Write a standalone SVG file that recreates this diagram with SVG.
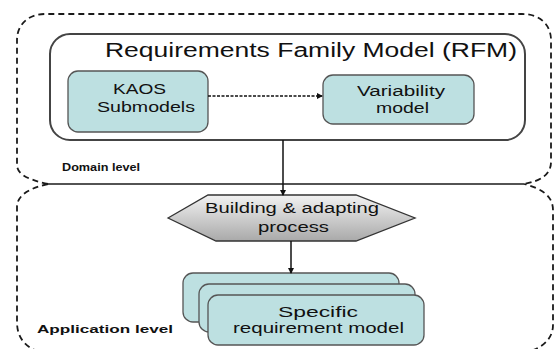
<svg xmlns="http://www.w3.org/2000/svg" width="554" height="349" viewBox="0 0 554 349">
<style>
text{font-family:"Liberation Sans",Arial,sans-serif;fill:#111}
.frame{fill:none;stroke:#1a1a1a;stroke-width:1.8;stroke-dasharray:6 4}
.box{fill:#bde0e1;stroke:#555;stroke-width:1.3}
.t14{font-size:14px}
.lvl{font-size:11px;font-weight:bold}
.conn{stroke:#111;stroke-width:1.5;fill:none}
</style>
<defs>
<marker id="ah" markerWidth="6" markerHeight="6" refX="5" refY="3" orient="auto" markerUnits="userSpaceOnUse">
<path d="M0,0 L6,3 L0,6 z" fill="#111"/>
</marker>
<linearGradient id="hexg" x1="0" y1="0" x2="0" y2="1">
<stop offset="0" stop-color="#f2f2f2"/>
<stop offset="1" stop-color="#a9a9a9"/>
</linearGradient>
</defs>
<g id="domain-frame">
<path class="frame" d="M48,184 C30,180 17,175 17,165 L17,40 C17,25 28,14 45,14 L522,14 C540,14 551,25 551,40 L551,162 C551,175 540,181 524,184"/>
<line x1="48" y1="184" x2="524" y2="184" stroke="#1a1a1a" stroke-width="1.5"/>
<text class="lvl" x="62" y="171" textLength="78" lengthAdjust="spacingAndGlyphs">Domain level</text>
</g>
<g id="application-frame">
<path class="frame" d="M48,184 C30,188 17,195 17,207 L17,322 C17,340 28,350 45,353 L520,353 C540,351 553,340 553,325 L553,210 C553,195 540,188 524,184"/>
<text class="lvl" x="37" y="333" textLength="136" lengthAdjust="spacingAndGlyphs">Application level</text>
</g>
<g id="rfm">
<rect x="50" y="34" width="475" height="106" rx="20" fill="#fff" stroke="#444" stroke-width="2"/>
<text x="105" y="57" font-size="20" textLength="412" lengthAdjust="spacingAndGlyphs">Requirements Family Model (RFM)</text>
</g>
<g id="kaos">
<rect class="box" x="68" y="71" width="140" height="61" rx="10"/>
<text class="t14" x="113" y="94" textLength="53" lengthAdjust="spacingAndGlyphs">KAOS</text>
<text class="t14" x="97" y="112" textLength="98" lengthAdjust="spacingAndGlyphs">Submodels</text>
</g>
<g id="variability">
<rect class="box" x="323" y="75" width="151" height="49" rx="10"/>
<text class="t14" x="357" y="96" textLength="88" lengthAdjust="spacingAndGlyphs">Variability</text>
<text class="t14" x="376" y="113" textLength="53" lengthAdjust="spacingAndGlyphs">model</text>
</g>
<g id="process">
<polygon points="168,218 208,195 356,195 415,218 356,241 216,241" fill="url(#hexg)" stroke="#333" stroke-width="1.3"/>
<text class="t14" x="205" y="213" textLength="174" lengthAdjust="spacingAndGlyphs">Building &amp; adapting</text>
<text class="t14" x="258" y="232" textLength="71" lengthAdjust="spacingAndGlyphs">process</text>
</g>
<g id="specific">
<rect class="box" x="183" y="273" width="216" height="49" rx="10"/>
<rect class="box" x="199" y="284" width="216" height="48" rx="10"/>
<rect class="box" x="208" y="295" width="216" height="50" rx="10"/>
<text class="t14" x="278" y="317" textLength="80" lengthAdjust="spacingAndGlyphs">Specific</text>
<text class="t14" x="233" y="333" textLength="171" lengthAdjust="spacingAndGlyphs">requirement model</text>
</g>
<g id="connectors">
<line class="conn" x1="208" y1="96" x2="322" y2="96" stroke-dasharray="3 1.5" stroke-width="1.2" marker-end="url(#ah)"/>
<line class="conn" x1="283" y1="140" x2="283" y2="195" marker-end="url(#ah)"/>
<line class="conn" x1="291" y1="241" x2="291" y2="273" marker-end="url(#ah)"/>
</g>
</svg>
